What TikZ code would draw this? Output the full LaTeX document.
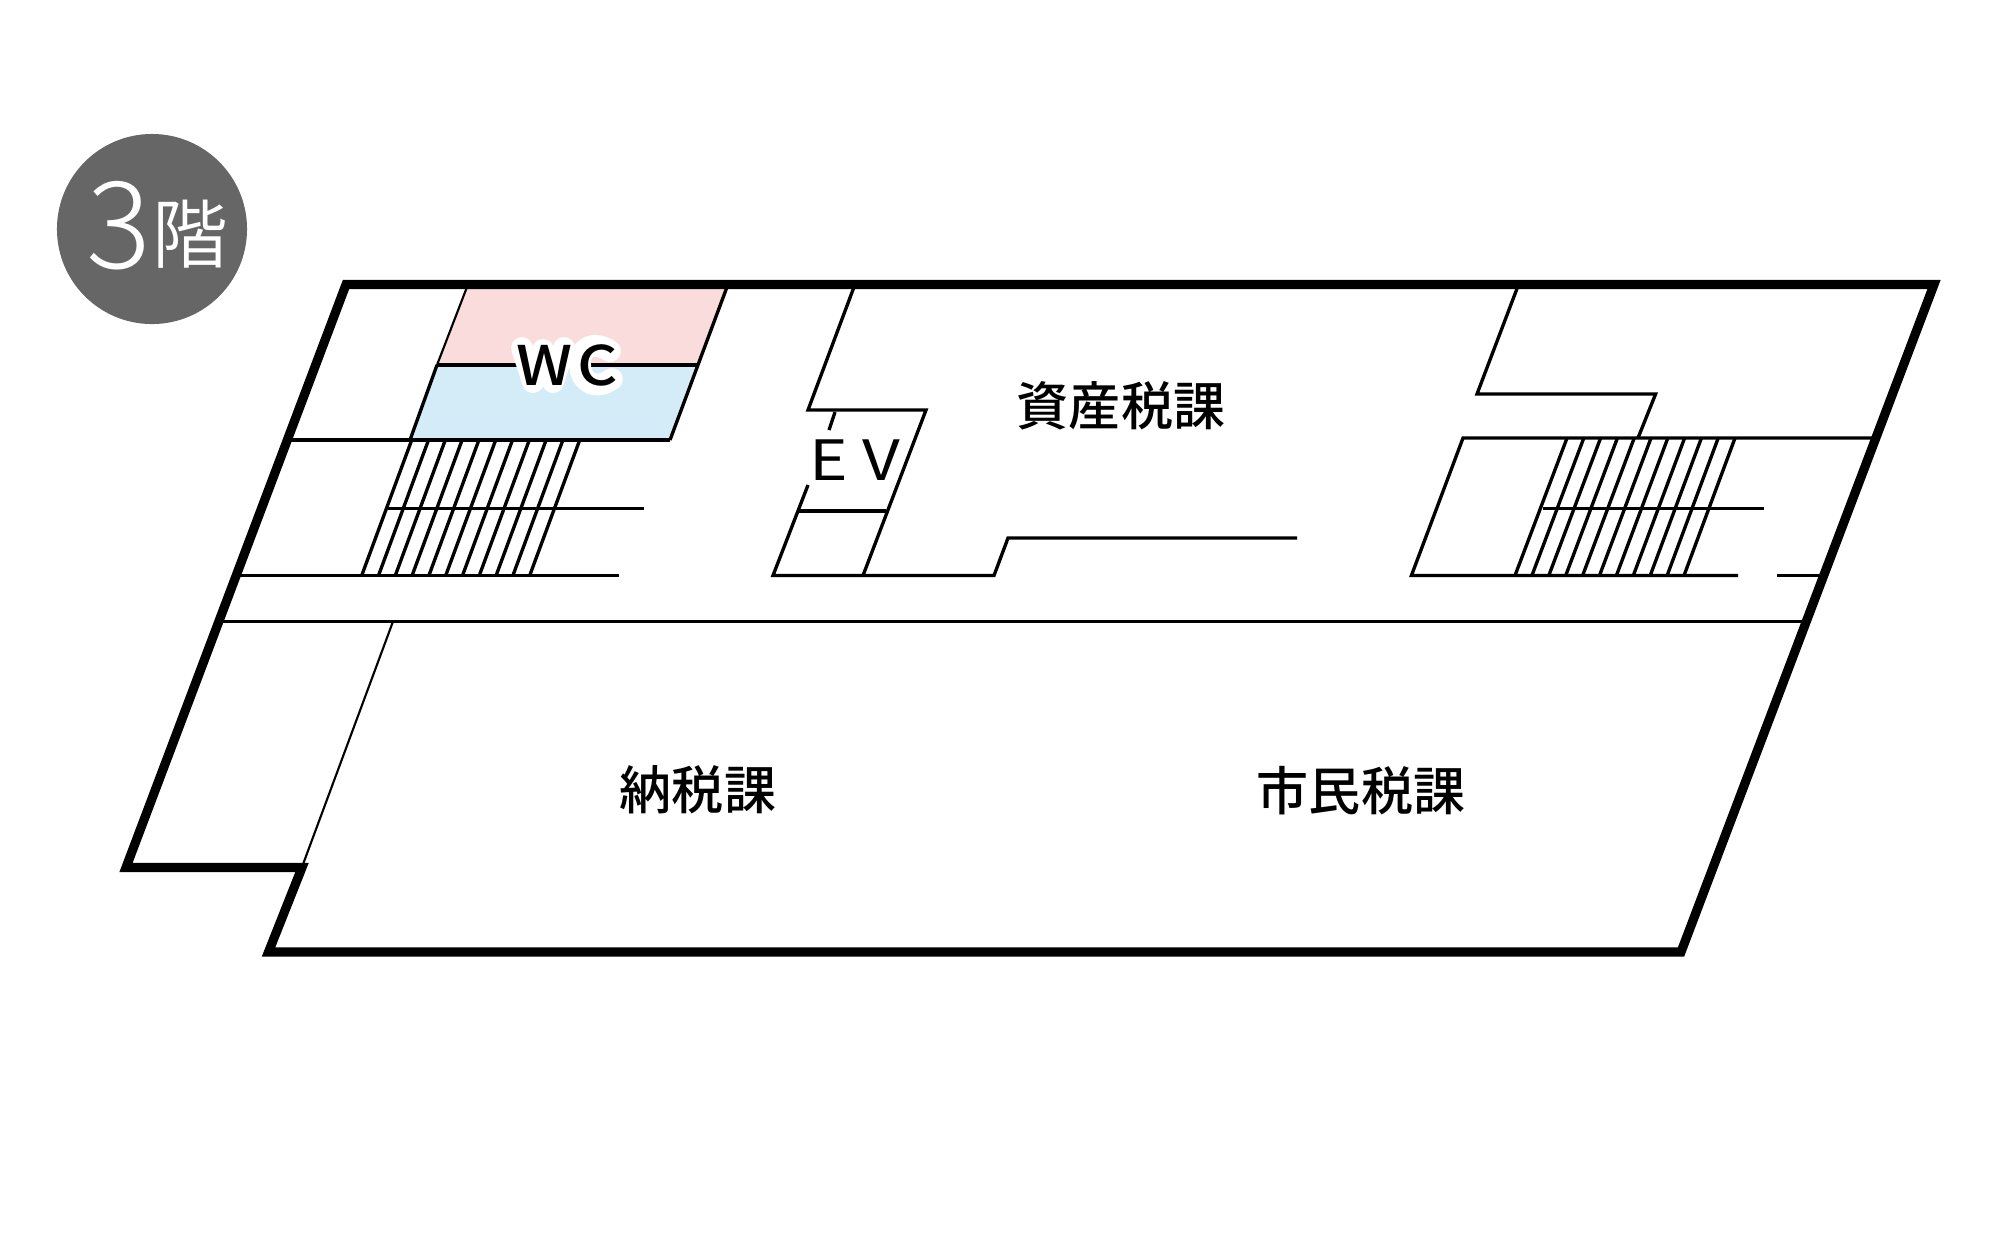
\documentclass[tikz,border=0pt]{standalone}
\usepackage{fontspec}
\usepackage{tikz}
\setmainfont{Noto Sans CJK JP}
\newfontfamily\roomfont{Noto Sans CJK JP Medium}
\newfontfamily\signfont[FakeStretch=1.15]{Noto Sans CJK JP Medium}
\newfontfamily\liftfont[FakeStretch=1.18]{Noto Sans CJK JP}
\newfontfamily\kaifont{Noto Sans CJK JP DemiLight}
\newfontfamily\digitfont{Noto Sans CJK JP Light}
\definecolor{pinkroom}{HTML}{FADCDC}
\definecolor{blueroom}{HTML}{D4ECF7}
\definecolor{badge}{HTML}{666666}

\begin{document}
\begin{tikzpicture}[x=0.01cm, y=-0.01cm,
    wall/.style={draw=black, line width=2.6pt, miter limit=10},
    thin wall/.style={draw=black, line width=0.95pt},
    hair wall/.style={draw=black, line width=0.6pt},
    halo/.style={draw=white, line width=6.2pt, line cap=round, line join=round},
    room/.style={font=\roomfont\fontsize{14.8pt}{16pt}\selectfont, inner sep=0pt}]
        \useasboundingbox (0,0) rectangle (2000,1250);
        % toilets
        \fill [pinkroom] (467,287) -- (727,287) -- (698,365) -- (437,365) -- cycle;
        \fill [blueroom] (437,365) -- (698,365) -- (670,440) -- (410,440) -- cycle;
        \draw [hair wall] (467,287) -- (437,365);
        \draw [thin wall] (437,365) -- (698,365);
        \draw [thin wall] (727,287) -- (670,440);
        \draw [thin wall] (437,365) -- (410,440);
        % left stairs
        \draw [thin wall] (290,440) -- (670,440);
        \draw [thin wall] (387,508.5) -- (644,508.5);
        \draw [thin wall] (236,575.5) -- (619,575.5);
        \foreach \i in {0,...,10}
            \draw [thin wall] (361.7+16.8*\i,575.5) -- (411.7+16.8*\i,440);
        % lift
        \draw [thin wall] (854,287) -- (808,410) -- (926,410) -- (863,575.5);
        \draw [thin wall] (835,412) -- (829,430);
        \draw [thin wall] (808,485) -- (773,575.5) -- (994,575.5) -- (1008,538) -- (1297,538);
        \draw [thin wall] (799,511) -- (886,511);
        % right stairs
        \draw [thin wall] (1517.6,287) -- (1477,394) -- (1655.6,394) -- (1638,438);
        \draw [thin wall] (1874,438) -- (1463,438) -- (1411.4,575.5) -- (1738,575.5);
        \draw [thin wall] (1776.6,575.5) -- (1824,575.5);
        \draw [thin wall] (1543,508.5) -- (1763.6,508.5);
        \foreach \i in {0,...,10}
            \draw [thin wall] (1515+16.9*\i,575.5) -- (1567+16.8*\i,438);
        % corridor
        \draw [thin wall] (219,621.5) -- (1807,621.5);
        \draw [hair wall] (393,621.5) -- (302,867);
        % outer walls
        \draw [wall] (346,284.5) -- (1934,284.5) -- (1681,952) -- (268.5,952) -- (302,867.5) -- (126,867.5) -- cycle;
        % floor badge
        \node [circle, fill=badge, minimum size=190pt*0.2845, inner sep=0pt] (badge) at (152,229) {};
        \node [text=white, inner sep=0pt, font=\digitfont\fontsize{34.4pt}{35pt}\selectfont] (three) at (119,226) {3};
        \node [text=white, inner sep=0pt, font=\kaifont\fontsize{21.5pt}{22pt}\selectfont] (kai) at (190,234) {階};
        % white rim behind the toilet sign
        \draw [halo] (522,348) -- (533,382) -- (543,350) -- (553,382) -- (564,348);
        \draw [halo] (610,351) .. controls (590,338) and (578,352) .. (580,365) .. controls (580,380) and (594,392) .. (612,379);
        % labels
        \node [inner sep=0pt, font=\signfont\fontsize{15.5pt}{16pt}\selectfont] (wc) at (567,365) {W\kern1.5pt C};
        \node [inner sep=0pt, font=\liftfont\fontsize{15.8pt}{16pt}\selectfont] (ev) at (855,460) {E\kern4pt V};
        \node [room] (shisan) at (1121,406) {資産税課};
        \node [room] (nouzei) at (698,790) {納税課};
        \node [room] (shimin) at (1361,791) {市民税課};
\end{tikzpicture}
\end{document}
